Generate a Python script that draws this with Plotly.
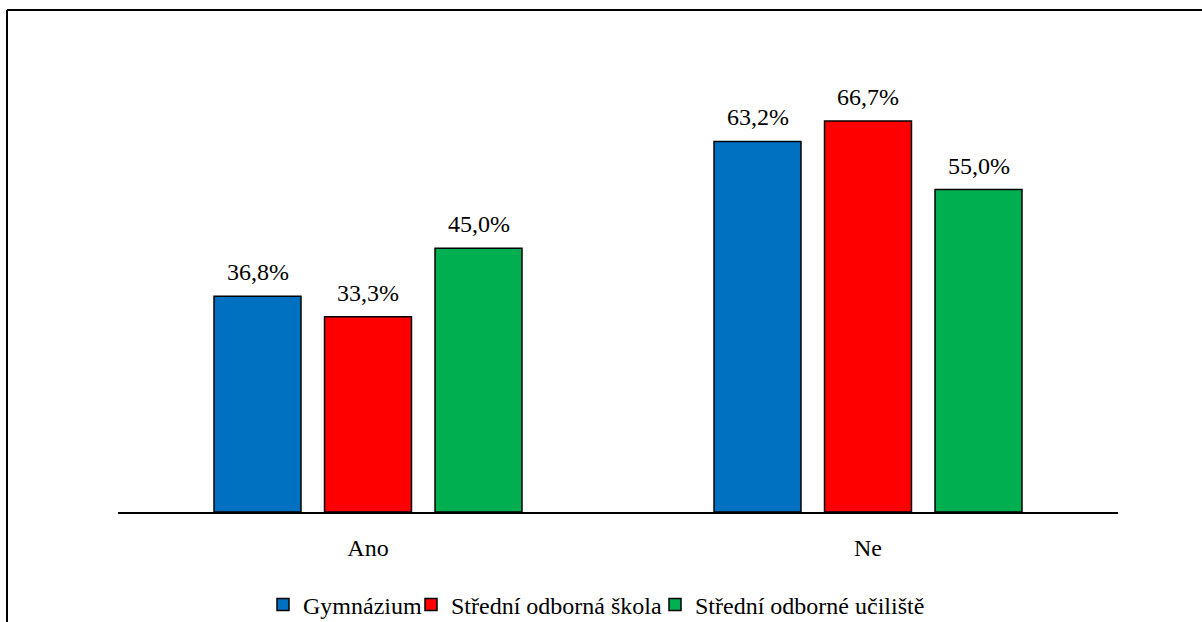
import plotly.graph_objects as go

categories = ["Ano", "Ne"]
series_names = ["Gymnázium", "Střední odborná škola", "Střední odborné učiliště"]
gymnazium = [36.8, 63.2]
sos = [33.3, 66.7]
sou = [45.0, 55.0]
colors = ["#0070C0", "#FF0000", "#00B050"]

font = "Liberation Serif"


def pct(v):
    return ("%.1f" % v).replace(".", ",") + "%"


fig = go.Figure()
annotations = []
# pixel offset of each bar within its group (bar slot ~110 px)
offsets = [-110.5, 0, 110.5]
legends = ["legend", "legend2", "legend3"]
for name, vals, col, off, lg in zip(series_names, [gymnazium, sos, sou], colors, offsets, legends):
    fig.add_trace(go.Bar(
        x=categories,
        y=vals,
        name=name,
        legend=lg,
        marker=dict(color=col, line=dict(color="black", width=1.5)),
    ))
    for c, v in zip(categories, vals):
        annotations.append(dict(
            x=c, y=v, xref="x", yref="y",
            text=pct(v), showarrow=False,
            xshift=off, yanchor="bottom", yshift=9,
            font=dict(size=24, family=font, color="black"),
        ))


def legend_at(x):
    return dict(
        orientation="h",
        x=x,
        xanchor="left",
        y=-0.198,
        yanchor="middle",
        font=dict(size=24, family=font),
        itemwidth=30,
        bgcolor="rgba(0,0,0,0)",
    )


fig.update_layout(
    width=1202,
    height=622,
    paper_bgcolor="white",
    plot_bgcolor="white",
    margin=dict(l=118, r=84, t=43, b=110, autoexpand=False),
    barmode="group",
    bargap=0.337,
    bargroupgap=0.213,
    font=dict(family=font, size=24, color="black"),
    showlegend=True,
    legend=legend_at(0.145),
    legend2=legend_at(0.293),
    legend3=legend_at(0.537),
    xaxis=dict(
        showline=True,
        linecolor="black",
        linewidth=1.5,
        ticks="",
        ticklabelstandoff=13,
        tickfont=dict(size=24, family=font),
        showgrid=False,
    ),
    yaxis=dict(
        range=[0, 80],
        visible=False,
        showgrid=False,
    ),
    annotations=annotations,
    shapes=[
        dict(type="line", xref="paper", yref="paper",
             x0=-0.111, x1=1.1, y0=1.0704, y1=1.0704,
             line=dict(color="black", width=2)),
        dict(type="line", xref="paper", yref="paper",
             x0=-0.111, x1=-0.111, y0=1.0704, y1=-0.3,
             line=dict(color="black", width=2)),
    ],
)

fig.write_html("out.html", config={"displayModeBar": False},
               post_script="document.body.style.margin='0';")
